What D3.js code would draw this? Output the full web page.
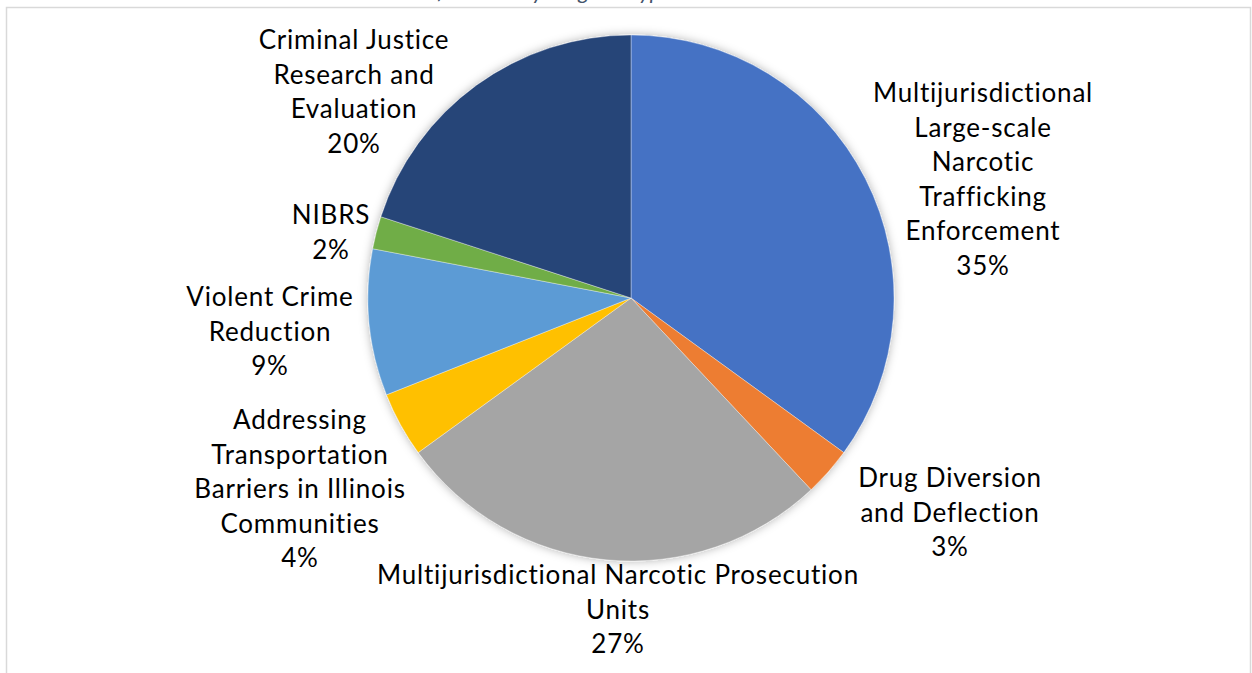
<!DOCTYPE html>
<html>
<head>
<meta charset="utf-8">
<script src="https://cdn.jsdelivr.net/npm/d3@7"></script>
<style>
  html, body { margin: 0; padding: 0; background: #ffffff; }
  svg { display: block; }
</style>
</head>
<body>
<svg id="chart" width="1252" height="673"></svg>
<script>
// Program areas, clockwise from 12 o'clock
const categories = [
  "Multijurisdictional Large-scale Narcotic Trafficking Enforcement",
  "Drug Diversion and Deflection",
  "Multijurisdictional Narcotic Prosecution Units",
  "Addressing Transportation Barriers in Illinois Communities",
  "Violent Crime Reduction",
  "NIBRS",
  "Criminal Justice Research and Evaluation"
];
// Share of funding, percent
const shares = [35, 3, 27, 4, 9, 2, 20];
// Label text broken into lines as displayed
const labelLines = [
  ["Multijurisdictional", "Large-scale", "Narcotic", "Trafficking", "Enforcement"],
  ["Drug Diversion", "and Deflection"],
  ["Multijurisdictional Narcotic Prosecution", "Units"],
  ["Addressing", "Transportation", "Barriers in Illinois", "Communities"],
  ["Violent Crime", "Reduction"],
  ["NIBRS"],
  ["Criminal Justice", "Research and", "Evaluation"]
];
const sliceColors = ["#4472C4", "#ED7D31", "#A5A5A5", "#FFC000", "#5B9BD5", "#70AD47", "#264478"];
// Label anchor (centre x, first-line centre y)
const labelPos = [
  [983, 93], [950, 478], [618, 575], [300, 420], [270, 297], [331, 215], [354, 40]
];

const svg = d3.select("#chart");
const W = 1252, H = 673;
const cx = 631, cy = 298, R = 263;
const lineH = 34.5;
const fontFamily = "Lato, 'Open Sans', sans-serif";

// Frame of the chart area
svg.append("rect")
  .attr("x", 6.5).attr("y", 7.5)
  .attr("width", W - 8).attr("height", H + 10)
  .attr("fill", "#ffffff")
  .attr("stroke", "#D9D9D9").attr("stroke-width", 1.5);

// Title (sits above the frame)
svg.append("text")
  .attr("x", 672).attr("y", -1)
  .attr("text-anchor", "end")
  .attr("font-family", fontFamily)
  .attr("font-style", "italic")
  .attr("font-size", 22)
  .attr("fill", "#44546A")
  .text("Share of Awards by Program Type");

// Soft shadow around the pie
const defs = svg.append("defs");
const f = defs.append("filter").attr("id", "pieShadow")
  .attr("x", "-10%").attr("y", "-10%").attr("width", "120%").attr("height", "120%");
f.append("feDropShadow")
  .attr("dx", 0).attr("dy", 0).attr("stdDeviation", 5)
  .attr("flood-color", "#000").attr("flood-opacity", 0.3);

const data = categories.map((c, i) => ({ name: c, value: shares[i], i }));
const pie = d3.pie().value(d => d.value).sort(null)
  .startAngle(0).endAngle(2 * Math.PI);
const arc = d3.arc().innerRadius(0).outerRadius(R);

const g = svg.append("g").attr("transform", `translate(${cx},${cy})`);
g.append("g").attr("filter", "url(#pieShadow)")
  .selectAll("path")
  .data(pie(data))
  .join("path")
  .attr("d", arc)
  .attr("fill", d => sliceColors[d.data.i])
  .attr("stroke", "#ffffff")
  .attr("stroke-width", 0.6)
  .attr("stroke-opacity", 0.6);

// Data labels: category lines followed by the percentage
const lbl = svg.append("g")
  .attr("font-family", fontFamily)
  .attr("font-size", 26)
  .attr("letter-spacing", 0.8)
  .attr("fill", "#000000")
  .attr("text-anchor", "middle");

data.forEach(d => {
  const [x, y] = labelPos[d.i];
  const lines = labelLines[d.i].concat([d3.format(".0f")(d.value) + "%"]);
  const t = lbl.append("text").attr("x", x).attr("y", y + 9);
  lines.forEach((ln, k) => {
    t.append("tspan").attr("x", x).attr("dy", k === 0 ? 0 : lineH).text(ln);
  });
});
</script>
</body>
</html>
